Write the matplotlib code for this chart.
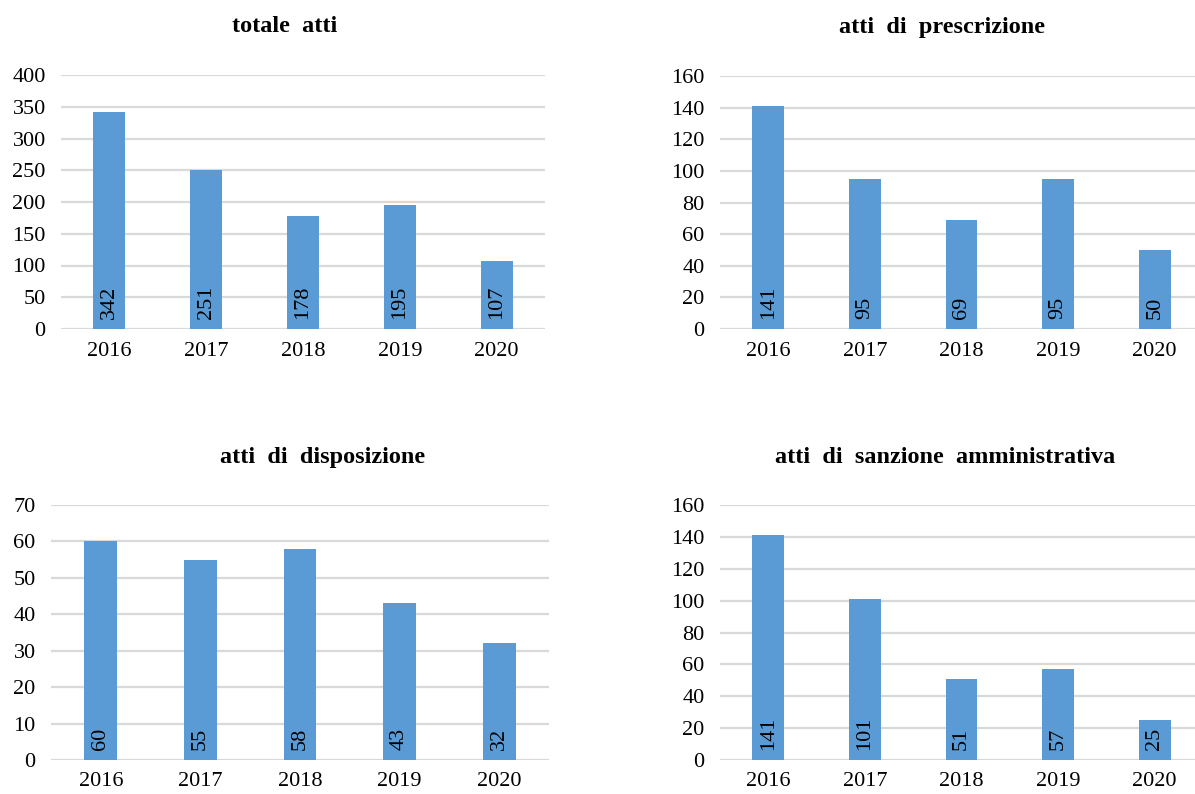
import matplotlib.pyplot as plt
import numpy as np

plt.rcParams['font.family'] = ['Liberation Serif', 'DejaVu Serif']

years = ['2016', '2017', '2018', '2019', '2020']
totale = [342, 251, 178, 195, 107]
prescrizione = [141, 95, 69, 95, 50]
disposizione = [60, 55, 58, 43, 32]
sanzione = [141, 101, 51, 57, 25]

charts = [
    # title, values, ymax, ystep, axes rect, title x
    ("totale  atti", totale, 400, 50, [61 / 1195, 1 - 329 / 794, 484 / 1195, 254 / 794], 285 / 1195, 1 - 27 / 794),
    ("atti  di  prescrizione", prescrizione, 160, 20, [720 / 1195, 1 - 329 / 794, 483 / 1195, 253 / 794], 942 / 1195, 1 - 27 / 794),
    ("atti  di  disposizione", disposizione, 70, 10, [51 / 1195, 1 - 760 / 794, 498 / 1195, 255 / 794], 323 / 1195, 1 - 458 / 794),
    ("atti  di  sanzione  amministrativa", sanzione, 160, 20, [720 / 1195, 1 - 760 / 794, 483 / 1195, 255 / 794], 945 / 1195, 1 - 458 / 794),
]

fig = plt.figure(figsize=(11.95, 7.94), dpi=100)

for title, vals, ymax, step, rect, tx, ty in charts:
    ax = fig.add_axes(rect)
    x = np.arange(len(years))
    bars = ax.bar(x, vals, width=0.33, color='#5B9BD5', zorder=3)
    ax.set_xlim(-0.5, len(years) - 0.5)
    ax.set_ylim(0, ymax)
    ax.set_yticks(np.arange(0, ymax + 1, step))
    ax.set_xticks(x)
    ax.set_xticklabels(years)
    ax.grid(axis='y', color='#D9D9D9', linewidth=1.6, zorder=0)
    ax.set_axisbelow(True)
    for s in ax.spines.values():
        s.set_visible(False)
    ax.tick_params(axis='y', length=0, pad=11, labelsize=16)
    ax.tick_params(axis='x', length=0, pad=9, labelsize=16)
    ax.set_clip_on(False)
    for b, v in zip(bars, vals):
        ax.annotate(str(v), (b.get_x() + b.get_width() / 2, 0),
                    xytext=(0, 7), textcoords='offset points',
                    rotation=90, ha='center', va='bottom', fontsize=16, zorder=4)
    fig.text(tx, ty, title, ha='center', va='center', fontsize=17.5, fontweight='bold')

fig.savefig('out.png', dpi=100)
